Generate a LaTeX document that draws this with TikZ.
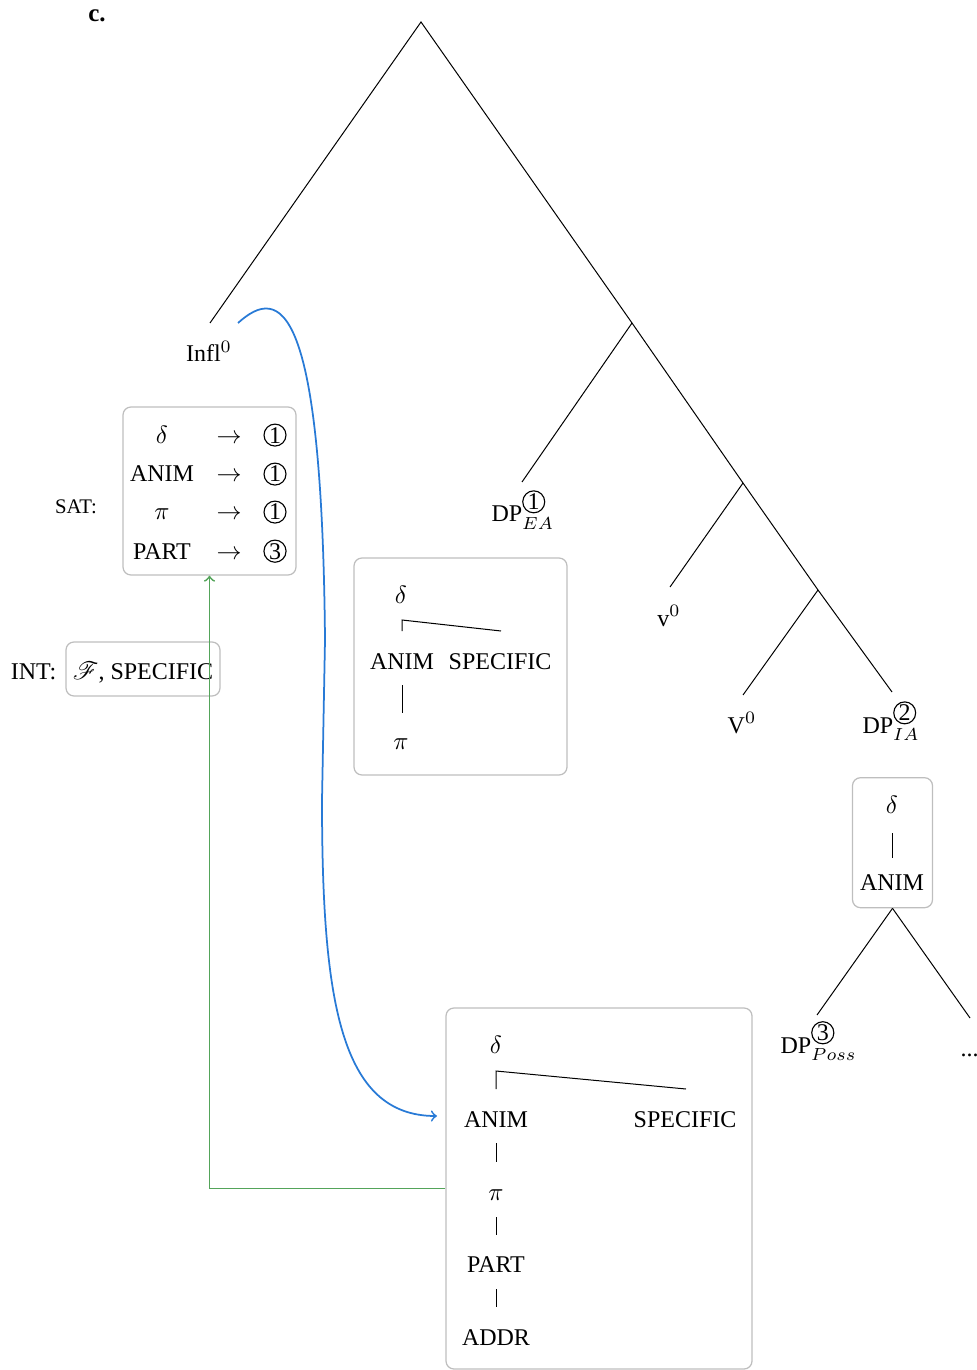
\documentclass[tikz,border=0pt]{standalone}
\usepackage{fontspec}
\setmainfont{Liberation Serif}
\usepackage{mathrsfs}
\definecolor{bluec}{RGB}{40,122,214}
\definecolor{greenc}{RGB}{84,164,90}
\definecolor{boxc}{RGB}{190,190,190}
\newcommand{\circnum}[1]{\tikz[baseline=(cn.base)]\node[draw,circle,inner sep=0.3pt,line width=0.45pt,font=\fontsize{9.6}{11}\selectfont](cn){#1};}
\begin{document}
\begin{tikzpicture}[x=0.4pt,y=-0.4pt,
  lab/.style={anchor=base,inner sep=0pt,font=\fontsize{9.6}{11.5}\selectfont},
  fbox/.style={draw=boxc,rounded corners=3.2pt,line width=0.5pt,inner sep=0pt},
  br/.style={line width=0.4pt},
  conn/.style={line width=0.7pt,->}]
\useasboundingbox (0,0) rectangle (977,1370);

% boxes
\node[fbox,minimum width=69.2pt,minimum height=67.2pt] (sat) at (209.5,491) {};
\node[fbox,minimum width=61.6pt,minimum height=21.6pt] (int) at (143,669) {};
\node[fbox,minimum width=85.2pt,minimum height=86.8pt] (mid) at (460.5,666.5) {};
\node[fbox,minimum width=122.4pt,minimum height=144.4pt] (bot) at (599,1188.5) {};
\node[fbox,minimum width=32pt,minimum height=52pt] (ia) at (892.5,842.7) {};

% tree
\coordinate (root) at (421,22);
\coordinate (n1) at (632,323);
\coordinate (n2) at (743,483);
\coordinate (n3) at (818,590);
\coordinate (inflT) at (210,323);
\coordinate (eaT) at (522,482);
\coordinate (vT) at (670,587);
\coordinate (VT) at (743,695);
\coordinate (iaT) at (892,692);
\coordinate (possT) at (817,1015);
\coordinate (dotsT) at (970,1018);
\draw[br] (inflT) -- (root) -- (n1) -- (n2) -- (n3) -- (iaT);
\draw[br] (n1) -- (eaT);
\draw[br] (n2) -- (vT);
\draw[br] (n3) -- (VT);
\draw[br] (ia.south) -- (possT);
\draw[br] (ia.south) -- (dotsT);

% labels
\node[lab,font={\fontsize{10}{12}\selectfont\bfseries}] (clab) at (97,22) {c.};
\node[lab] (infl) at (209,362) {Infl$^0$};
\node[lab,anchor=base west] (ea) at (491,522) {DP$^{\circnum{1}}_{EA}$};
\node[lab] (vlab) at (669,626) {v$^0$};
\node[lab] (Vlab) at (742,733) {V$^0$};
\node[lab,anchor=base west] (dpia) at (862,733) {DP$^{\circnum{2}}_{IA}$};
\node[lab,anchor=base west] (poss) at (780,1053) {DP$^{\circnum{3}}_{Poss}$};
\node[lab,anchor=base west] (dots) at (960,1056) {...};

% SAT box
\node[lab,font=\fontsize{8.3}{10}\selectfont] (satl) at (76,514) {SAT:};
\node[lab] (sa1) at (162,443) {$\delta$};
\node[lab] (sb1) at (229,443) {$\rightarrow$};
\node[lab] (sc1) at (275,443) {\circnum{1}};
\node[lab] (sa2) at (162,482) {ANIM};
\node[lab] (sb2) at (229,482) {$\rightarrow$};
\node[lab] (sc2) at (275,482) {\circnum{1}};
\node[lab] (sa3) at (162,520) {$\pi$};
\node[lab] (sb3) at (229,520) {$\rightarrow$};
\node[lab] (sc3) at (275,520) {\circnum{1}};
\node[lab] (sa4) at (162,559) {PART};
\node[lab] (sb4) at (229,559) {$\rightarrow$};
\node[lab] (sc4) at (275,559) {\circnum{3}};

% INT box
\node[lab] (intl) at (33.5,679) {INT:};
\node[lab] (intt) at (143,679) {$\mathscr{F}$, SPECIFIC};

% middle box
\node[lab] (md) at (401,603) {$\delta$};
\node[lab] (ma) at (402,669) {ANIM};
\node[lab] (ms) at (500,669) {SPECIFIC};
\node[lab] (mp) at (401,749) {$\pi$};
\coordinate (mk1) at (402,631);
\coordinate (mk2) at (402,620);
\coordinate (mk3) at (501,631);
\draw[br] (mk1) -- (mk2) -- (mk3);
\coordinate (mv1) at (402,685);
\coordinate (mv2) at (402,713);
\draw[br] (mv1) -- (mv2);

% bottom box
\node[lab] (bd) at (496,1053) {$\delta$};
\node[lab] (ba) at (496,1127) {ANIM};
\node[lab] (bs) at (685,1127) {SPECIFIC};
\node[lab] (bp) at (496,1200) {$\pi$};
\node[lab] (bpt) at (496,1272) {PART};
\node[lab] (bad) at (496,1345) {ADDR};
\coordinate (bk1) at (496,1089);
\coordinate (bk2) at (496,1071);
\coordinate (bk3) at (686,1089);
\draw[br] (bk1) -- (bk2) -- (bk3);
\coordinate (bv1) at (496,1143);
\coordinate (bv2) at (496,1162);
\coordinate (bv3) at (496,1217);
\coordinate (bv4) at (496,1235);
\coordinate (bv5) at (496,1289);
\coordinate (bv6) at (496,1307);
\draw[br] (bv1) -- (bv2);
\draw[br] (bv3) -- (bv4);
\draw[br] (bv5) -- (bv6);

% DP_IA box
\node[lab] (id) at (892,813) {$\delta$};
\node[lab] (ian) at (892,890) {ANIM};
\coordinate (iv1) at (892,833);
\coordinate (iv2) at (892,858);
\draw[br] (iv1) -- (iv2);

% connectors
\coordinate (bstart) at (238,323);
\coordinate (bmid) at (325,640);
\coordinate (bmid2) at (322,800);
\coordinate (bend) at (437,1116);
\draw[conn,bluec] (bstart) .. controls (280,285) and (322,300) .. (bmid) -- (bmid2) .. controls (322,1000) and (340,1116) .. (bend);
\draw[conn,greenc] (bot.west) -| (sat.south);
\end{tikzpicture}
\end{document}
